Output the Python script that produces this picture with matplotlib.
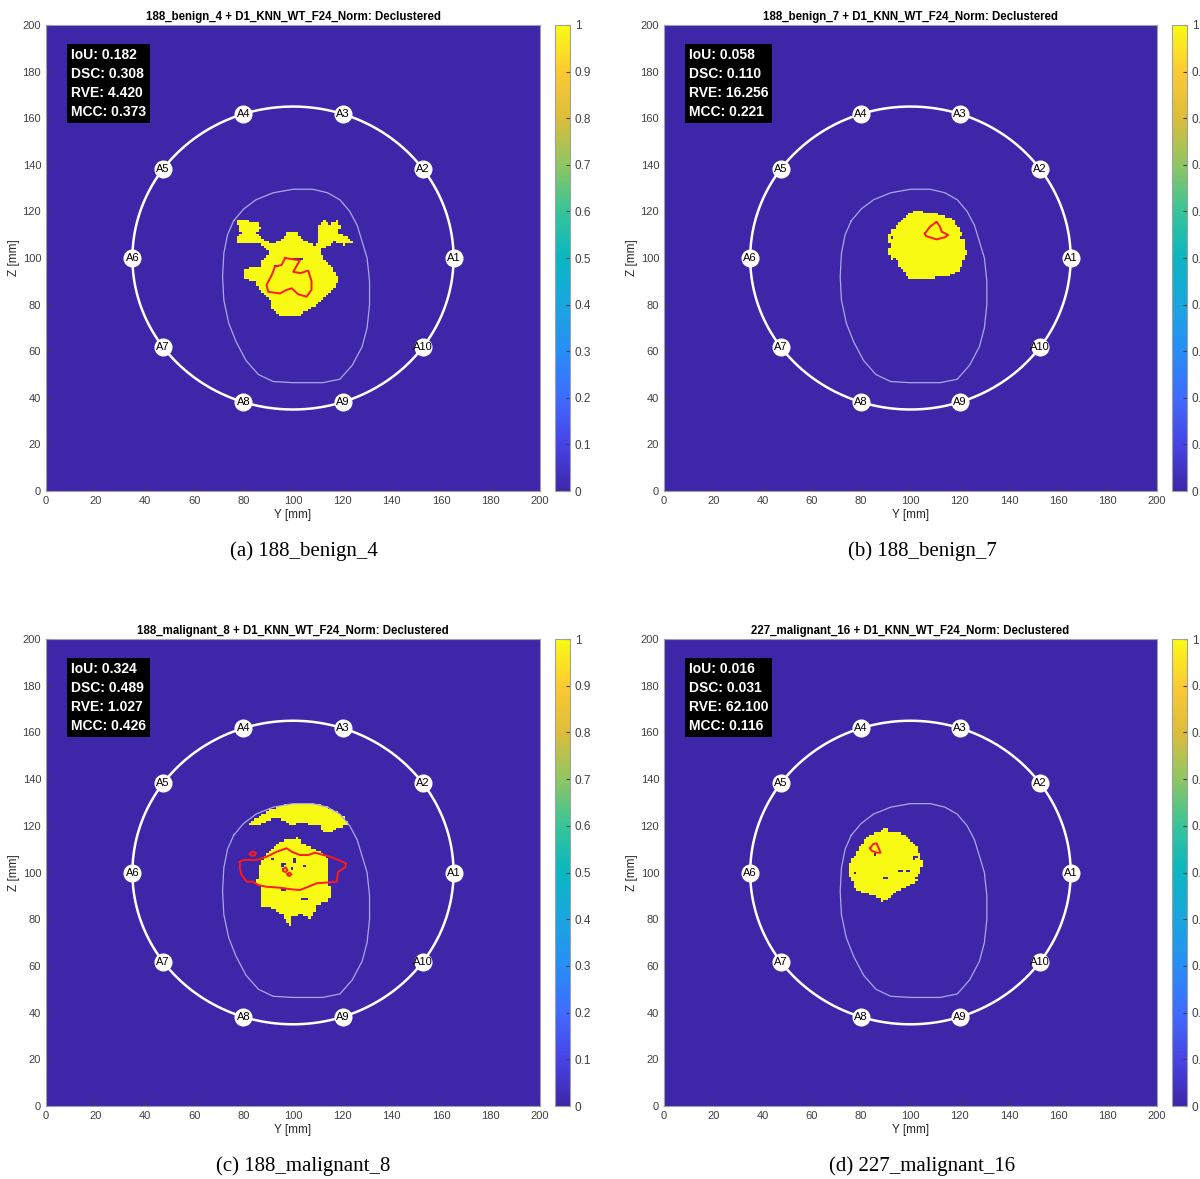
import numpy as np
import matplotlib
matplotlib.use("Agg")
import matplotlib.pyplot as plt
from matplotlib.path import Path
from matplotlib.colors import LinearSegmentedColormap

plt.rcParams['font.family'] = ['Liberation Sans', 'DejaVu Sans']

# ---- data (all in mm, (Y, Z)) ----
titles = ["188_benign_4 + D1_KNN_WT_F24_Norm: Declustered",
          "188_benign_7 + D1_KNN_WT_F24_Norm: Declustered",
          "188_malignant_8 + D1_KNN_WT_F24_Norm: Declustered",
          "227_malignant_16 + D1_KNN_WT_F24_Norm: Declustered"]
captions = ["(a) 188_benign_4", "(b) 188_benign_7",
            "(c) 188_malignant_8", "(d) 227_malignant_16"]

iou = [0.182, 0.058, 0.324, 0.016]
dsc = [0.308, 0.110, 0.489, 0.031]
rve = [4.420, 16.256, 1.027, 62.100]
mcc = [0.373, 0.221, 0.426, 0.116]

antenna_labels = ["A1", "A2", "A3", "A4", "A5", "A6", "A7", "A8", "A9", "A10"]
antenna_angles = [0, 36, 72, 108, 144, 180, 216, 252, 288, 324]
ring_center = (100, 100)
ring_radius = 65

breast_outline = [(76, 116), (80, 121), (85, 125), (92, 128), (100, 129.5), (108, 129.5),
                  (114, 128), (119, 125), (123, 120), (126, 114), (128, 107), (130, 100),
                  (131, 90), (131, 80), (130, 70), (128, 62), (124, 54), (119, 48),
                  (112, 46.5), (100, 46.5), (92, 47), (86, 50), (81, 56), (77, 64),
                  (74, 72), (72, 82), (71.5, 92), (72, 102), (73.5, 110), (76, 116)]

# detected regions (value 1)
blobs_a = [[(77.2, 115.6), (81.2, 116.6), (82.6, 114.6), (86.0, 114.6), (86.6, 112.3),
            (84.6, 110.6), (86.4, 108.9), (89.3, 106.6), (92.0, 106.0), (95.4, 108.0),
            (97.4, 110.6), (101.5, 110.6), (102.8, 108.0), (105.5, 106.6), (108.9, 105.2),
            (110.3, 107.7), (109.6, 113.4), (113.0, 116.0), (114.7, 114.2), (117.4, 116.0),
            (119.0, 113.4), (117.7, 110.6), (121.7, 108.9), (123.8, 106.3), (120.4, 105.2),
            (116.3, 106.6), (113.6, 104.6), (110.3, 103.4), (111.6, 100.9), (113.4, 98.0),
            (115.7, 95.6), (117.4, 92.7), (117.7, 89.1), (116.3, 86.3), (114.3, 84.5),
            (111.6, 82.0), (108.2, 79.1), (104.2, 76.5), (101.5, 74.8), (94.7, 75.1),
            (91.4, 77.7), (91.0, 81.3), (88.7, 84.1), (86.0, 86.6), (84.6, 89.8),
            (80.6, 90.8), (79.6, 94.1), (82.6, 95.6), (87.0, 96.0), (87.3, 98.4),
            (90.0, 101.3), (89.3, 103.4), (86.6, 105.6), (82.6, 106.0), (77.2, 106.0),
            (76.5, 108.4), (79.2, 109.9), (77.9, 112.0)]]
blobs_b = [[(98.5, 118.5), (101, 119.5), (103.9, 120.3), (106, 118.5), (110.6, 118.5),
            (114, 117.5), (117.4, 116.3), (118.5, 114), (120.1, 112), (121, 109.5),
            (122.1, 107), (121.5, 105), (122.8, 102), (121.4, 97.7), (119.4, 94.1),
            (114.7, 92), (112, 92.5), (107.9, 90.6), (103, 91.5), (99.8, 90.6),
            (97.8, 93.4), (94.4, 97), (95, 98.5), (92.4, 99.1), (91, 102.7), (92, 104.5),
            (91, 107), (91.7, 111.3), (93.5, 112.5), (95, 114.9), (97, 116)]]
blobs_c = [[(81.9, 120.3), (85.3, 123.2), (90.7, 126.8), (96.1, 128.5), (102.8, 129.3),
            (109.6, 128.9), (115.7, 126.8), (120.4, 123.9), (122.4, 121.1), (120.4, 119.6),
            (116.3, 118.2), (115, 116.8), (112.3, 116.8), (110.9, 119.6), (106.9, 120.3),
            (102.8, 121.1), (99.5, 119.6), (96.1, 121.8), (93.4, 123.2), (89.4, 121.8),
            (86.6, 120.3)],
           [(90.7, 108.9), (94.1, 112.5), (97.4, 113.9), (102.1, 114.6), (103.5, 112.5),
            (106.9, 110.4), (110.9, 108.9), (113.6, 106.1), (114.3, 101.1), (114.3, 95.4),
            (115, 90.4), (113.6, 87.5), (109.6, 86.1), (108.2, 82.5), (106.9, 79.7),
            (103.5, 81.8), (99.5, 81.1), (98.8, 76.8), (97.4, 78.2), (96.1, 81.1),
            (93.4, 83.2), (90.7, 84.7), (87.3, 84.7), (86.6, 88.2), (87.3, 92.5),
            (85.3, 95.4), (86, 99.7), (86.6, 103.9), (88.7, 106.8)]]
blobs_d = [[(83.6, 116.1), (88.3, 117.5), (90.3, 119.4), (91, 117.5), (95.7, 116.8),
            (99.1, 114.6), (101.1, 112.5), (103.2, 109.6), (103.9, 106.1), (105.2, 103.2),
            (103.9, 100.3), (102.5, 97.5), (103.2, 96.1), (99.8, 94.6), (97.8, 93.2),
            (95, 91.8), (92.4, 90.4), (90.3, 88.2), (87.6, 86.8), (87.6, 89), (83.6, 90.4),
            (80.2, 91.1), (77.5, 93.2), (76.8, 95.4), (75.5, 98.2), (74.8, 102.5),
            (76.1, 105.4), (78.2, 108.2), (79.5, 111), (81.5, 113.9)]]

# pixels inside the blobs that stay at 0
holes_a = [(100, 99), (101, 99), (102, 99), (103, 99), (92, 96), (93, 96)]
holes_b = [(92, 108), (120, 108), (93, 99), (121, 98)]
holes_c = [(91, 105), (95, 103), (96, 103), (95, 102), (99, 101), (100, 104), (100, 105),
           (104, 102), (103, 88), (104, 88), (105, 88), (95, 92), (96, 92)]
holes_d = [(77, 99), (89, 97), (90, 97), (95, 100), (96, 100), (98, 100), (99, 100),
           (101, 106), (102, 106), (101, 105), (85, 107)]

# true tumour outline (red)
truth_a = [[(96.8, 100), (102.8, 99), (100.1, 94.1), (103, 93.5), (106.2, 94.6), (107.5, 90),
            (107.5, 86.3), (105.5, 83.4), (102, 84.5), (99.5, 87), (97.4, 86.3), (94.7, 84.8),
            (90, 85.5), (89.3, 88.4), (91.4, 92.7), (92.7, 96.3), (95.4, 97), (96.8, 100)]]
truth_b = [[(105.9, 110.6), (107.9, 113.4), (110.6, 115.6), (112, 113.4), (112.7, 111.3),
            (115.3, 109.9), (114, 108.9), (110.6, 108), (107.9, 108.9), (106.3, 109.4),
            (105.9, 110.6)]]
truth_c = [[(78.5, 104.6), (79.9, 105.4), (85.3, 105.4), (89.4, 106.8), (93.4, 108.9),
            (97.4, 110.4), (99.5, 108.9), (102.8, 107.5), (106.2, 107.5), (108.9, 108.5),
            (112.3, 107.5), (115, 106.8), (118.3, 105.4), (121.5, 103.9), (121.1, 102.2),
            (118.3, 100.3), (117.7, 96.1), (113.6, 95.7), (109.6, 95.4), (106.2, 93.9),
            (102.8, 92.5), (99.5, 92.8), (94.7, 93.5), (89.4, 93.9), (86, 94.6),
            (83.9, 96.1), (81.3, 96.1), (79.2, 98.9), (78.5, 101.8), (78.5, 104.6)],
           [(82.5, 108), (83.5, 109), (85, 108.5), (84.5, 107.3), (83, 107.3), (82.5, 108)],
           [(96, 101.5), (97, 102.2), (97.8, 101), (97, 100.2), (96, 100.6), (96, 101.5)],
           [(97.8, 99.4), (98.6, 100), (99.4, 99.2), (98.6, 98.5), (97.8, 98.8), (97.8, 99.4)]]
truth_d = [[(83.6, 110.4), (84.9, 112.2), (86.3, 112.5), (87.3, 109.9), (87.9, 108.5),
            (86.3, 108.5), (84.3, 109.3), (83.6, 110.4)]]

panel_blobs = [blobs_a, blobs_b, blobs_c, blobs_d]
panel_holes = [holes_a, holes_b, holes_c, holes_d]
panel_truth = [truth_a, truth_b, truth_c, truth_d]

# parula-like colormap
parula = LinearSegmentedColormap.from_list("parula", [
    (0.00, (0.2422, 0.1504, 0.6603)),
    (0.10, (0.2780, 0.2660, 0.9000)),
    (0.20, (0.2480, 0.4200, 0.9960)),
    (0.30, (0.1530, 0.5550, 0.9600)),
    (0.40, (0.1000, 0.6500, 0.8750)),
    (0.50, (0.0400, 0.7150, 0.7600)),
    (0.60, (0.2100, 0.7700, 0.6000)),
    (0.70, (0.5600, 0.7750, 0.3900)),
    (0.80, (0.8600, 0.7400, 0.2300)),
    (0.90, (0.9900, 0.7900, 0.2000)),
    (1.00, (0.9769, 0.9839, 0.0805))])

# ---- figure ----
fig = plt.figure(figsize=(12, 11.79), dpi=100)

ax_pos = [[0.0383, 0.5835, 0.4117, 0.3953], [0.5533, 0.5835, 0.4108, 0.3953],
          [0.0383, 0.0619, 0.4117, 0.3961], [0.5533, 0.0619, 0.4108, 0.3961]]
cb_x = [0.4625, 0.9767, 0.4625, 0.9767]
cap_pos = [(0.253, 0.5327), (0.7685, 0.5327), (0.253, 0.011), (0.7685, 0.011)]

yy, zz = np.meshgrid(np.arange(200) + 0.5, np.arange(200) + 0.5)
pts = np.column_stack([yy.ravel(), zz.ravel()])
tick_col = '#404040'

for i in range(4):
    grid = np.zeros(200 * 200)
    for poly in panel_blobs[i]:
        grid[Path(poly).contains_points(pts)] = 1
    grid = grid.reshape(200, 200)
    for (hy, hz) in panel_holes[i]:
        grid[hz, hy] = 0

    ax = fig.add_axes(ax_pos[i])
    im = ax.imshow(grid, cmap=parula, vmin=0, vmax=1, origin='lower',
                   extent=[0, 200, 0, 200], aspect='auto', interpolation='nearest')

    bo = np.array(breast_outline)
    ax.plot(bo[:, 0], bo[:, 1], color='#a8a8ee', lw=0.9)

    for poly in panel_truth[i]:
        p = np.array(poly)
        ax.plot(p[:, 0], p[:, 1], color='#ff1a1a', lw=1.4)

    t = np.linspace(0, 2 * np.pi, 400)
    ax.plot(ring_center[0] + ring_radius * np.cos(t),
            ring_center[1] + ring_radius * np.sin(t), color='white', lw=1.8)
    for lab, ang in zip(antenna_labels, antenna_angles):
        ay = ring_center[0] + ring_radius * np.cos(np.radians(ang))
        az = ring_center[1] + ring_radius * np.sin(np.radians(ang))
        ax.plot(ay, az, 'o', color='white', ms=12, mec='white')
        ax.text(ay, az, lab, ha='center', va='center', fontsize=8, color='black')

    txt = "IoU: %.3f\nDSC: %.3f\nRVE: %.3f\nMCC: %.3f" % (iou[i], dsc[i], rve[i], mcc[i])
    ax.text(10.2, 190.0, txt, ha='left', va='top', color='white', fontsize=10,
            fontweight='bold', linespacing=1.45,
            bbox=dict(facecolor='black', edgecolor='none', pad=2.8))

    ax.set_xlim(0, 200)
    ax.set_ylim(0, 200)
    ax.set_xticks(np.arange(0, 201, 20))
    ax.set_yticks(np.arange(0, 201, 20))
    ax.tick_params(direction='in', length=3, labelsize=8, colors=tick_col,
                   top=False, right=False)
    for s in ax.spines.values():
        s.set_color('#a0a0a0')
        s.set_linewidth(0.8)
    ax.set_xlabel('Y [mm]', fontsize=8.5, color='#262626', labelpad=2)
    ax.set_ylabel('Z [mm]', fontsize=8.5, color='#262626', labelpad=2)
    ax.set_title(titles[i], fontsize=8.3, fontweight='bold', pad=3.5)

    cax = fig.add_axes([cb_x[i], ax_pos[i][1], 0.0125, ax_pos[i][3]])
    cb = fig.colorbar(im, cax=cax, ticks=np.arange(0, 1.01, 0.1))
    cb.ax.set_yticklabels(['0', '0.1', '0.2', '0.3', '0.4', '0.5', '0.6', '0.7',
                           '0.8', '0.9', '1'])
    cb.ax.tick_params(direction='in', length=3, labelsize=8.5, colors=tick_col)
    cb.outline.set_edgecolor('#a0a0a0')
    cb.outline.set_linewidth(0.8)

    fig.text(cap_pos[i][0], cap_pos[i][1], captions[i], ha='center', va='center',
             fontsize=15, family='Liberation Serif')

fig.savefig('out.png', dpi=100)
